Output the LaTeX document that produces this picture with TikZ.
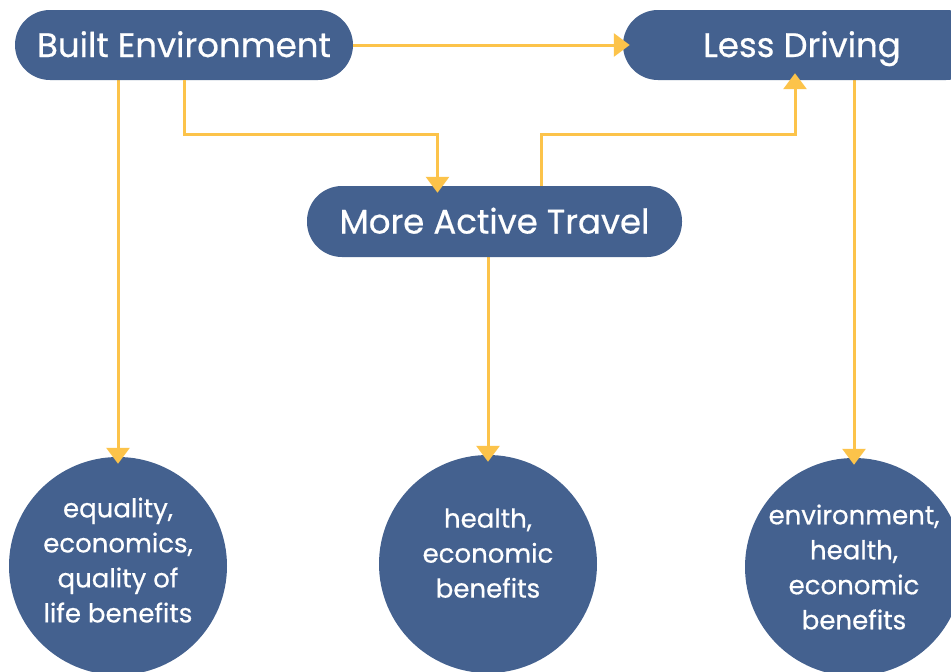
\documentclass[tikz,border=0pt]{standalone}
\usepackage{fontspec}
\setmainfont{Poppins}[FakeBold=0.6]
\usetikzlibrary{arrows.meta}
\definecolor{pillblue}{HTML}{44618F}
\definecolor{arrowyellow}{HTML}{FCC34A}
\begin{document}
\begin{tikzpicture}[x=1pt,y=-1pt,
  pill/.style={fill=pillblue, text=white, minimum height=70pt, rounded corners=35pt, inner sep=0pt, text height=24pt, text depth=0pt, font=\fontsize{34}{40}\selectfont},
  disc/.style={circle, fill=pillblue, text=white, minimum size=218pt, inner sep=0pt, align=center, font=\fontsize{26}{35}\selectfont},
  conn/.style={draw=arrowyellow, line width=3pt},
  arr/.style={conn, -{Triangle[width=23pt,length=16pt]}, shorten >=-7pt}
]
\useasboundingbox (0,0) rectangle (951,672);
\clip (0,0) rectangle (951,672);
\fill[white] (0,0) rectangle (951,672);

\node[disc] (c1) at (118,566) {equality,\\economics,\\quality of\\life benefits\\[-23pt]};
\node[disc] (c2) at (488,564) {health,\\economic\\benefits\\[-13pt]};
\node[disc] (c3) at (854,567) {environment,\\health,\\economic\\benefits};

\draw[arr] (c1.north |- 0,80) -- (c1.north);
\draw[arr] (c2.north |- 0,257) -- (c2.north);
\draw[arr] (c3.north |- 0,80) -- (c3.north);

\node[pill, minimum width=338pt] (be) at (184,45) {Built Environment};
\node[pill, minimum width=358pt] (ld) at (802,45) {Less Driving};
\node[pill, minimum width=375pt, minimum height=71pt] (mat) at (494.5,221.5) {More Active Travel};

\draw[arr] (be.east) -- (ld.west);
\draw[arr] (be.south) |- ([xshift=-57pt]mat.north |- 0,134) -- ([xshift=-57pt]mat.north);
\draw[arr] ([xshift=46.5pt]mat.north) |- ([xshift=-7pt]ld.south |- 0,134) -- ([xshift=-7pt]ld.south);
\end{tikzpicture}
\end{document}
